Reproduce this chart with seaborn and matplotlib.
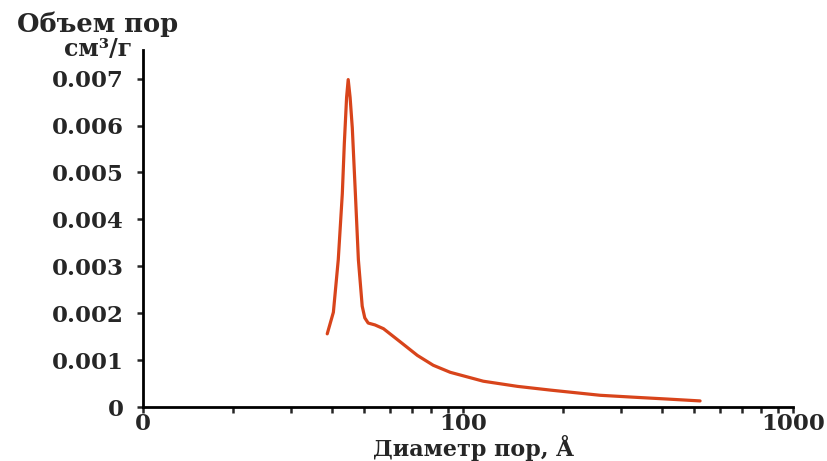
import numpy as np
import pandas as pd
import matplotlib
matplotlib.use("Agg")
import matplotlib.pyplot as plt
from matplotlib.ticker import FixedLocator, FixedFormatter, LogLocator, NullFormatter
import seaborn as sns

# pore diameter (A) and pore volume (cm3/g)
diameter = [38.7, 40.4, 41.8, 43.0, 43.6, 44.3, 44.8, 45.4, 46.1, 47.1, 48.1, 49.4,
            50.3, 51.5, 54.0, 57.3, 64.4, 72.6, 81.1, 91.3, 115, 146, 184, 260,
            327, 415, 522]
volume = [0.00156, 0.00202, 0.00314, 0.00455, 0.00561, 0.00660, 0.00698, 0.00660,
          0.00595, 0.00455, 0.00314, 0.00215, 0.00190, 0.00179, 0.00175, 0.00167,
          0.00139, 0.00110, 0.00089, 0.00074, 0.00055, 0.00044, 0.00036, 0.00025,
          0.00021, 0.00017, 0.00013]

x_ticks = [10.7, 100, 1000]
x_ticklabels = ["0", "100", "1000"]
y_ticks = [0, 0.001, 0.002, 0.003, 0.004, 0.005, 0.006, 0.007]
y_ticklabels = ["0", "0.001", "0.002", "0.003", "0.004", "0.005", "0.006", "0.007"]

df = pd.DataFrame({"d": diameter, "v": volume})

sns.set_style("ticks")
plt.rcParams["font.family"] = ["DejaVu Serif"]
plt.rcParams["font.weight"] = "bold"

fig = plt.figure(figsize=(8.28, 4.61), dpi=100)
ax = fig.add_axes([0.1727, 0.1171, 0.958 - 0.1727, 0.8915 - 0.1171])

sns.lineplot(data=df, x="d", y="v", ax=ax, color="#d8441b", linewidth=2.3)

ax.set_xscale("log")
ax.set_xlim(10.7, 1000)
ax.set_ylim(0, 0.00761)

ax.xaxis.set_major_locator(FixedLocator(x_ticks))
ax.xaxis.set_major_formatter(FixedFormatter(x_ticklabels))
ax.xaxis.set_minor_locator(LogLocator(base=10, subs=np.arange(2, 10)))
ax.xaxis.set_minor_formatter(NullFormatter())
ax.yaxis.set_major_locator(FixedLocator(y_ticks))
ax.yaxis.set_major_formatter(FixedFormatter(y_ticklabels))

for s in ["top", "right"]:
    ax.spines[s].set_visible(False)
for s in ["left", "bottom"]:
    ax.spines[s].set_linewidth(2.0)
    ax.spines[s].set_color("black")

ax.tick_params(axis="both", which="major", direction="out", length=4, width=1.8,
               labelsize=16.5)
ax.tick_params(axis="y", which="major", pad=10)
ax.tick_params(axis="x", which="major", pad=0.5)
ax.tick_params(axis="x", which="minor", direction="out", length=4, width=1.8)
for lab in ax.get_xticklabels() + ax.get_yticklabels():
    lab.set_fontweight("bold")

ax.set_xlabel("")
ax.set_ylabel("")
fig.text(0.572, 0.0, "Диаметр пор, Å", fontsize=16, fontweight="bold",
         ha="center", va="bottom")
fig.text(0.118, 0.948, "Объем пор", fontsize=18.5, fontweight="bold", ha="center", va="center")
fig.text(0.118, 0.893, "см³/г", fontsize=17, fontweight="bold", ha="center", va="center")

fig.savefig("out.png", dpi=100)
